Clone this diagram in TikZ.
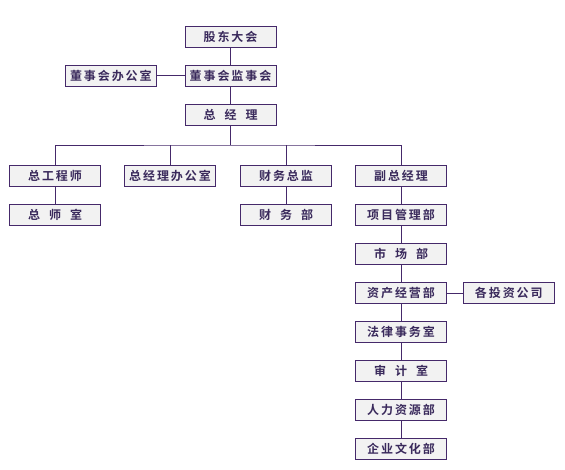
\documentclass[tikz,border=0pt]{standalone}
\usepackage{fontspec}
\usepackage{xcolor}
\usepackage{tikz}
\usetikzlibrary{positioning}
\newfontfamily\cjk[BoldFont={Noto Sans CJK SC Bold},LetterSpace=16]{Noto Sans CJK SC}
\definecolor{orgline}{HTML}{45296A}
\definecolor{orgtext}{HTML}{3A2A5C}
\definecolor{orgfill}{HTML}{F2F2F2}
\newcommand{\kong}{\hspace{9pt}}
\tikzset{
  dept/.style={draw=orgline, fill=orgfill, line width=0.9pt, minimum width=91pt,
    minimum height=21pt, inner sep=0pt, text=orgtext, font=\cjk\bfseries\fontsize{12}{13}\selectfont},
  link/.style={draw=orgline, line width=0.9pt}
}

\begin{document}
\begin{tikzpicture}[x=1pt,y=-1pt]
  \useasboundingbox (0,0) rectangle (565,469);
  % Spitze
  \node[dept] (gddh)  at (230.5,36.5)  {股东大会};
  \node[dept] (dsjs)  at (230.5,75.5)  {董事会监事会};
  \node[dept] (dsbgs) at (110.8,75.5)  {董事会办公室};
  \node[dept] (zjl)   at (230.5,114.5) {总\kong 经\kong 理};
  \coordinate (bus) at (230.5,145);
  % Zweite Ebene
  \node[dept] (zgcs)  at (55,176)  {总工程师};
  \node[dept] (zjbgs) at (170,176) {总经理办公室};
  \node[dept] (cwzj)  at (286,176) {财务总监};
  \node[dept] (fzjl)  at (401,176) {副总经理};
  % Abteilungen
  \node[dept] (zss)   at (55,215)  {总\kong 师\kong 室};
  \node[dept] (cwb)   at (286,215) {财\kong 务\kong 部};
  \node[dept] (xmglb) at (401,215) {项目管理部};
  \node[dept] (scb)   at (401,254) {市\kong 场\kong 部};
  \node[dept] (zcjyb) at (401,293) {资产经营部};
  \node[dept] (gtzgs) at (508.8,293) {各投资公司};
  \node[dept] (flsws) at (401,332) {法律事务室};
  \node[dept] (sjs)   at (401,371) {审\kong 计\kong 室};
  \node[dept] (rlzyb) at (401,410) {人力资源部};
  \node[dept] (qywhb) at (401,449) {企业文化部};
  % Verbindungen
  \draw[link] (gddh) -- (dsjs);
  \draw[link] (dsbgs) -- (dsjs);
  \draw[link] (dsjs) -- (zjl);
  \draw[link] (zjl) -- (bus);
  \draw[link] (zgcs.north) |- (bus) -| (fzjl.north);
  \draw[link] (zjbgs.north) -- (zjbgs.north |- bus);
  \draw[link] (cwzj.north) -- (cwzj.north |- bus);
  \draw[link] (zgcs) -- (zss);
  \draw[link] (cwzj) -- (cwb);
  \draw[link] (fzjl) -- (xmglb);
  \draw[link] (xmglb) -- (scb);
  \draw[link] (scb) -- (zcjyb);
  \draw[link] (zcjyb) -- (gtzgs);
  \draw[link] (zcjyb) -- (flsws);
  \draw[link] (flsws) -- (sjs);
  \draw[link] (sjs) -- (rlzyb);
  \draw[link] (rlzyb) -- (qywhb);
\end{tikzpicture}
\end{document}
